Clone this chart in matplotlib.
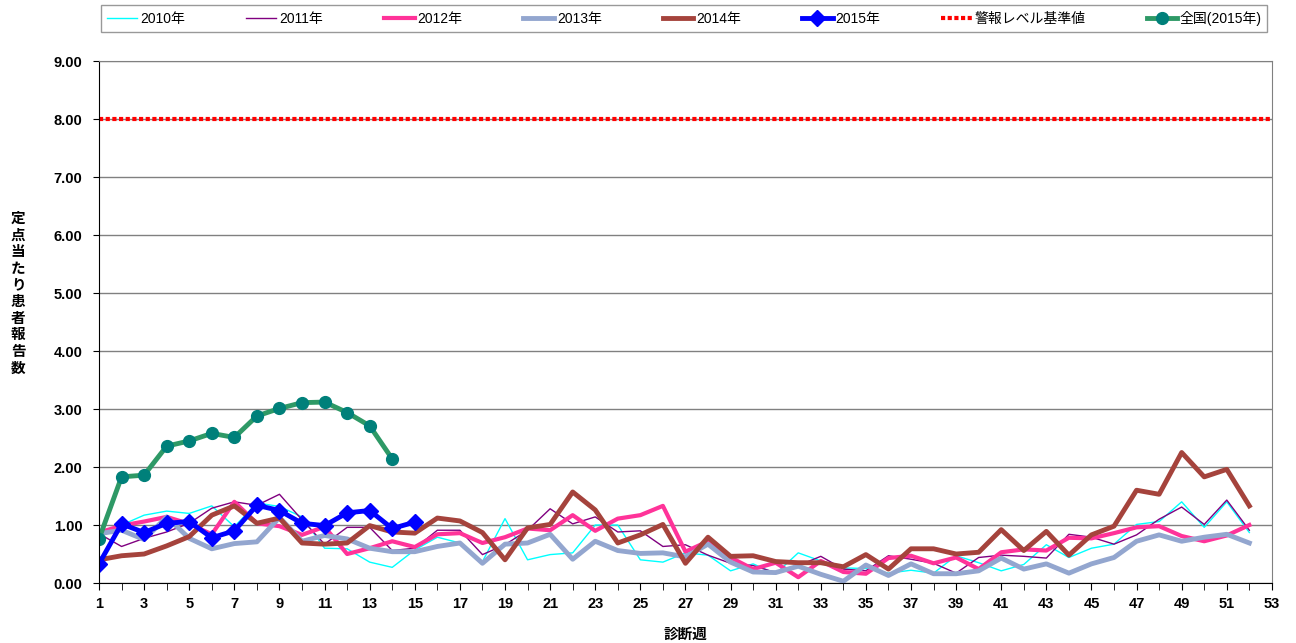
import matplotlib
matplotlib.use("Agg")
import matplotlib.pyplot as plt
from matplotlib.ticker import FixedLocator, MultipleLocator, FormatStrFormatter

plt.rcParams['font.family'] = ['Liberation Sans', 'Noto Sans CJK JP', 'DejaVu Sans']

weeks = list(range(1, 53))

# weekly values per sentinel site
y2010 = [0.80, 1.00, 1.17, 1.24, 1.20, 1.33, 0.97, 1.38, 1.32, 1.14,
         0.60, 0.59, 0.36, 0.27, 0.57, 0.79, 0.69, 0.37, 1.11, 0.40,
         0.49, 0.52, 1.00, 1.00, 0.40, 0.36, 0.52, 0.48, 0.21, 0.33,
         0.16, 0.52, 0.38, 0.26, 0.25, 0.17, 0.22, 0.17, 0.47, 0.35,
         0.21, 0.32, 0.66, 0.44, 0.60, 0.67, 1.01, 1.06, 1.40, 0.96,
         1.40, 0.87]
y2011 = [0.85, 0.63, 0.77, 0.88, 1.03, 1.29, 1.40, 1.34, 1.53, 1.09,
         0.67, 0.96, 0.96, 0.56, 0.60, 0.91, 0.91, 0.49, 0.66, 0.91,
         1.28, 1.02, 1.14, 0.88, 0.90, 0.63, 0.66, 0.48, 0.34, 0.30,
         0.18, 0.30, 0.46, 0.24, 0.21, 0.47, 0.41, 0.34, 0.17, 0.44,
         0.48, 0.46, 0.43, 0.84, 0.79, 0.67, 0.83, 1.10, 1.31, 1.01,
         1.43, 0.91]
y2012 = [0.87, 0.99, 1.06, 1.14, 1.02, 0.84, 1.40, 1.03, 0.98, 0.83,
         0.97, 0.50, 0.60, 0.72, 0.62, 0.84, 0.86, 0.69, 0.79, 0.94,
         0.91, 1.17, 0.90, 1.11, 1.17, 1.33, 0.54, 0.72, 0.44, 0.24,
         0.35, 0.10, 0.38, 0.19, 0.16, 0.43, 0.47, 0.34, 0.44, 0.24,
         0.53, 0.58, 0.56, 0.78, 0.77, 0.86, 0.96, 0.98, 0.81, 0.72,
         0.82, 1.00]
y2013 = [0.85, 0.91, 0.75, 1.14, 0.77, 0.59, 0.68, 0.71, 1.13, 0.72,
         0.82, 0.76, 0.60, 0.54, 0.54, 0.63, 0.69, 0.34, 0.67, 0.69,
         0.84, 0.41, 0.72, 0.56, 0.51, 0.52, 0.45, 0.67, 0.36, 0.19,
         0.18, 0.29, 0.15, 0.03, 0.31, 0.13, 0.33, 0.16, 0.16, 0.21,
         0.43, 0.24, 0.33, 0.17, 0.33, 0.44, 0.72, 0.83, 0.72, 0.79,
         0.84, 0.69]
y2014 = [0.40, 0.47, 0.50, 0.64, 0.80, 1.17, 1.33, 1.03, 1.12, 0.69,
         0.67, 0.69, 0.99, 0.88, 0.86, 1.12, 1.07, 0.87, 0.40, 0.95,
         1.01, 1.57, 1.26, 0.69, 0.83, 1.01, 0.34, 0.79, 0.46, 0.47,
         0.37, 0.35, 0.35, 0.28, 0.49, 0.24, 0.59, 0.59, 0.50, 0.53,
         0.92, 0.56, 0.89, 0.48, 0.83, 0.98, 1.60, 1.53, 2.25, 1.83,
         1.96, 1.33]
weeks2015 = list(range(1, 16))
y2015 = [0.33, 1.02, 0.87, 1.03, 1.06, 0.78, 0.90, 1.34, 1.25, 1.03,
         0.99, 1.21, 1.25, 0.94, 1.05]
weeks_nat = list(range(1, 15))
national2015 = [0.76, 1.83, 1.86, 2.36, 2.45, 2.58, 2.51, 2.88, 3.01, 3.11,
                3.12, 2.94, 2.71, 2.14]
alert_weeks = [1, 53]
alert_level = [8.0, 8.0]
week_labels = list(range(1, 54, 2))

fig = plt.figure(figsize=(12.96, 6.43), dpi=100)
ax = fig.add_axes([0.0764, 0.0933, 0.905, 0.8117])

ax.plot(weeks, y2010, color='#00FFFF', lw=1.0, label='2010年')
ax.plot(weeks, y2011, color='#800080', lw=1.0, label='2011年')
ax.plot(weeks, y2012, color='#FF3399', lw=3.0, label='2012年')
ax.plot(weeks, y2013, color='#93A6CF', lw=3.5, label='2013年')
ax.plot(weeks, y2014, color='#A5433C', lw=3.5, label='2014年')
ax.plot(weeks2015, y2015, color='#0000FF', lw=3.5, marker='D', ms=8,
        label='2015年')
ax.plot(alert_weeks, alert_level, color='#FF0000', lw=3.0, ls=(0, (1, 0.6)),
        label='警報レベル基準値')
ax.plot(weeks_nat, national2015, color='#2E9966', lw=3.5, marker='o', ms=8.5,
        mfc='#00807A', mec='#00807A', label='全国(2015年)')

ax.set_xlim(1, 53)
ax.set_ylim(0, 9)
ax.xaxis.set_major_locator(FixedLocator(week_labels))
ax.xaxis.set_minor_locator(MultipleLocator(1))
ax.yaxis.set_major_locator(MultipleLocator(1))
ax.yaxis.set_major_formatter(FormatStrFormatter('%.2f'))
ax.grid(axis='y', color='#808080', lw=1.0)
ax.set_axisbelow(True)
ax.tick_params(axis='x', which='major', length=5, labelsize=10.5, pad=5)
ax.tick_params(axis='x', which='minor', length=5)
ax.tick_params(axis='y', length=4, labelsize=10.5, pad=8)
for lab in ax.get_xticklabels() + ax.get_yticklabels():
    lab.set_fontweight('bold')
for side in ['top', 'right']:
    ax.spines[side].set_color('#808080')
ax.spines['bottom'].set_color('#000000')
ax.spines['left'].set_color('#000000')

fig.text(0.014, 0.545, '\n'.join('定点当たり患者報告数'), ha='center', va='center',
         fontsize=10.5, fontweight='bold', family=['Noto Sans CJK JP'],
         linespacing=1.05)
fig.text(0.529, 0.015, '診断週', ha='center', va='center', fontsize=10.5,
         fontweight='bold', family=['Noto Sans CJK JP'])

leg = fig.legend(loc='lower left', bbox_to_anchor=(0.078, 0.951, 0.900, 0.044),
                 mode='expand', ncol=8, fontsize=9.5, frameon=True, fancybox=False,
                 edgecolor='#808080', handlelength=2.2, handletextpad=0.2,
                 borderaxespad=0, prop={'family': ['Liberation Sans', 'Noto Sans CJK JP']})
leg.get_frame().set_linewidth(1.0)

fig.savefig('out.png', dpi=100)
